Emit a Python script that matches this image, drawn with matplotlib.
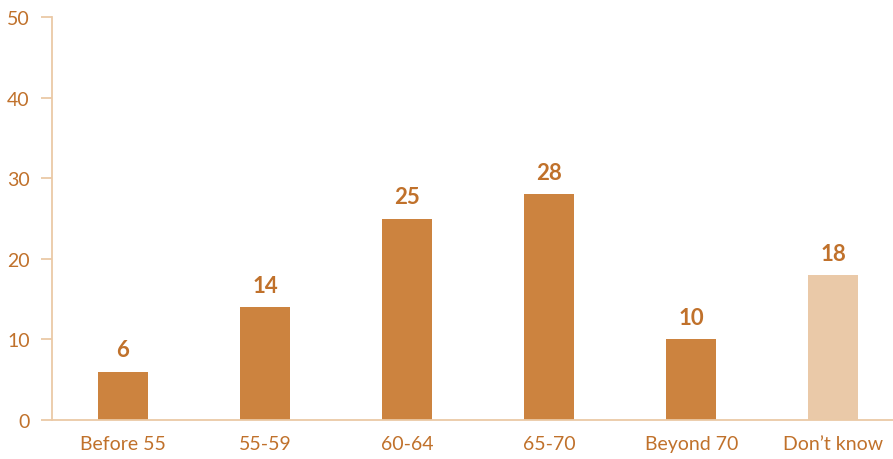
import matplotlib
matplotlib.use("Agg")
import matplotlib.pyplot as plt

categories = ["Before 55", "55-59", "60-64", "65-70", "Beyond 70", "Don\u2019t know"]
values = [6, 14, 25, 28, 10, 18]
yticks = [0, 10, 20, 30, 40, 50]

dark = "#CC833F"
light = "#EAC9A8"
text_c = "#C0712B"
axis_c = "#EBC9A6"

plt.rcParams['font.family'] = ['Lato', 'DejaVu Sans']

fig = plt.figure(figsize=(8.93, 4.6), dpi=100)
ax = fig.add_axes([52/893, 39/460, 841/893, 403/460])

colors = [dark]*5 + [light]
x = list(range(len(categories)))
ax.bar(x, values, width=0.35, color=colors, zorder=2)
for xi, v in zip(x, values):
    ax.text(xi, v + 1.4, str(v), ha='center', va='bottom', fontsize=16,
            fontweight='bold', color=text_c)

ax.set_xlim(-0.5, 5.42)
ax.set_ylim(0, 50)
ax.set_yticks(yticks)
ax.set_xticks(x)
ax.set_xticklabels(categories)
for s in ['top', 'right']:
    ax.spines[s].set_visible(False)
for s in ['left', 'bottom']:
    ax.spines[s].set_color(axis_c)
    ax.spines[s].set_linewidth(1.3)
ax.tick_params(axis='y', length=8, width=1.3, color=axis_c, labelcolor=text_c,
               labelsize=14, pad=8)
ax.tick_params(axis='x', length=0, labelcolor=text_c, labelsize=14, pad=11)

fig.savefig("out.png", dpi=100)
